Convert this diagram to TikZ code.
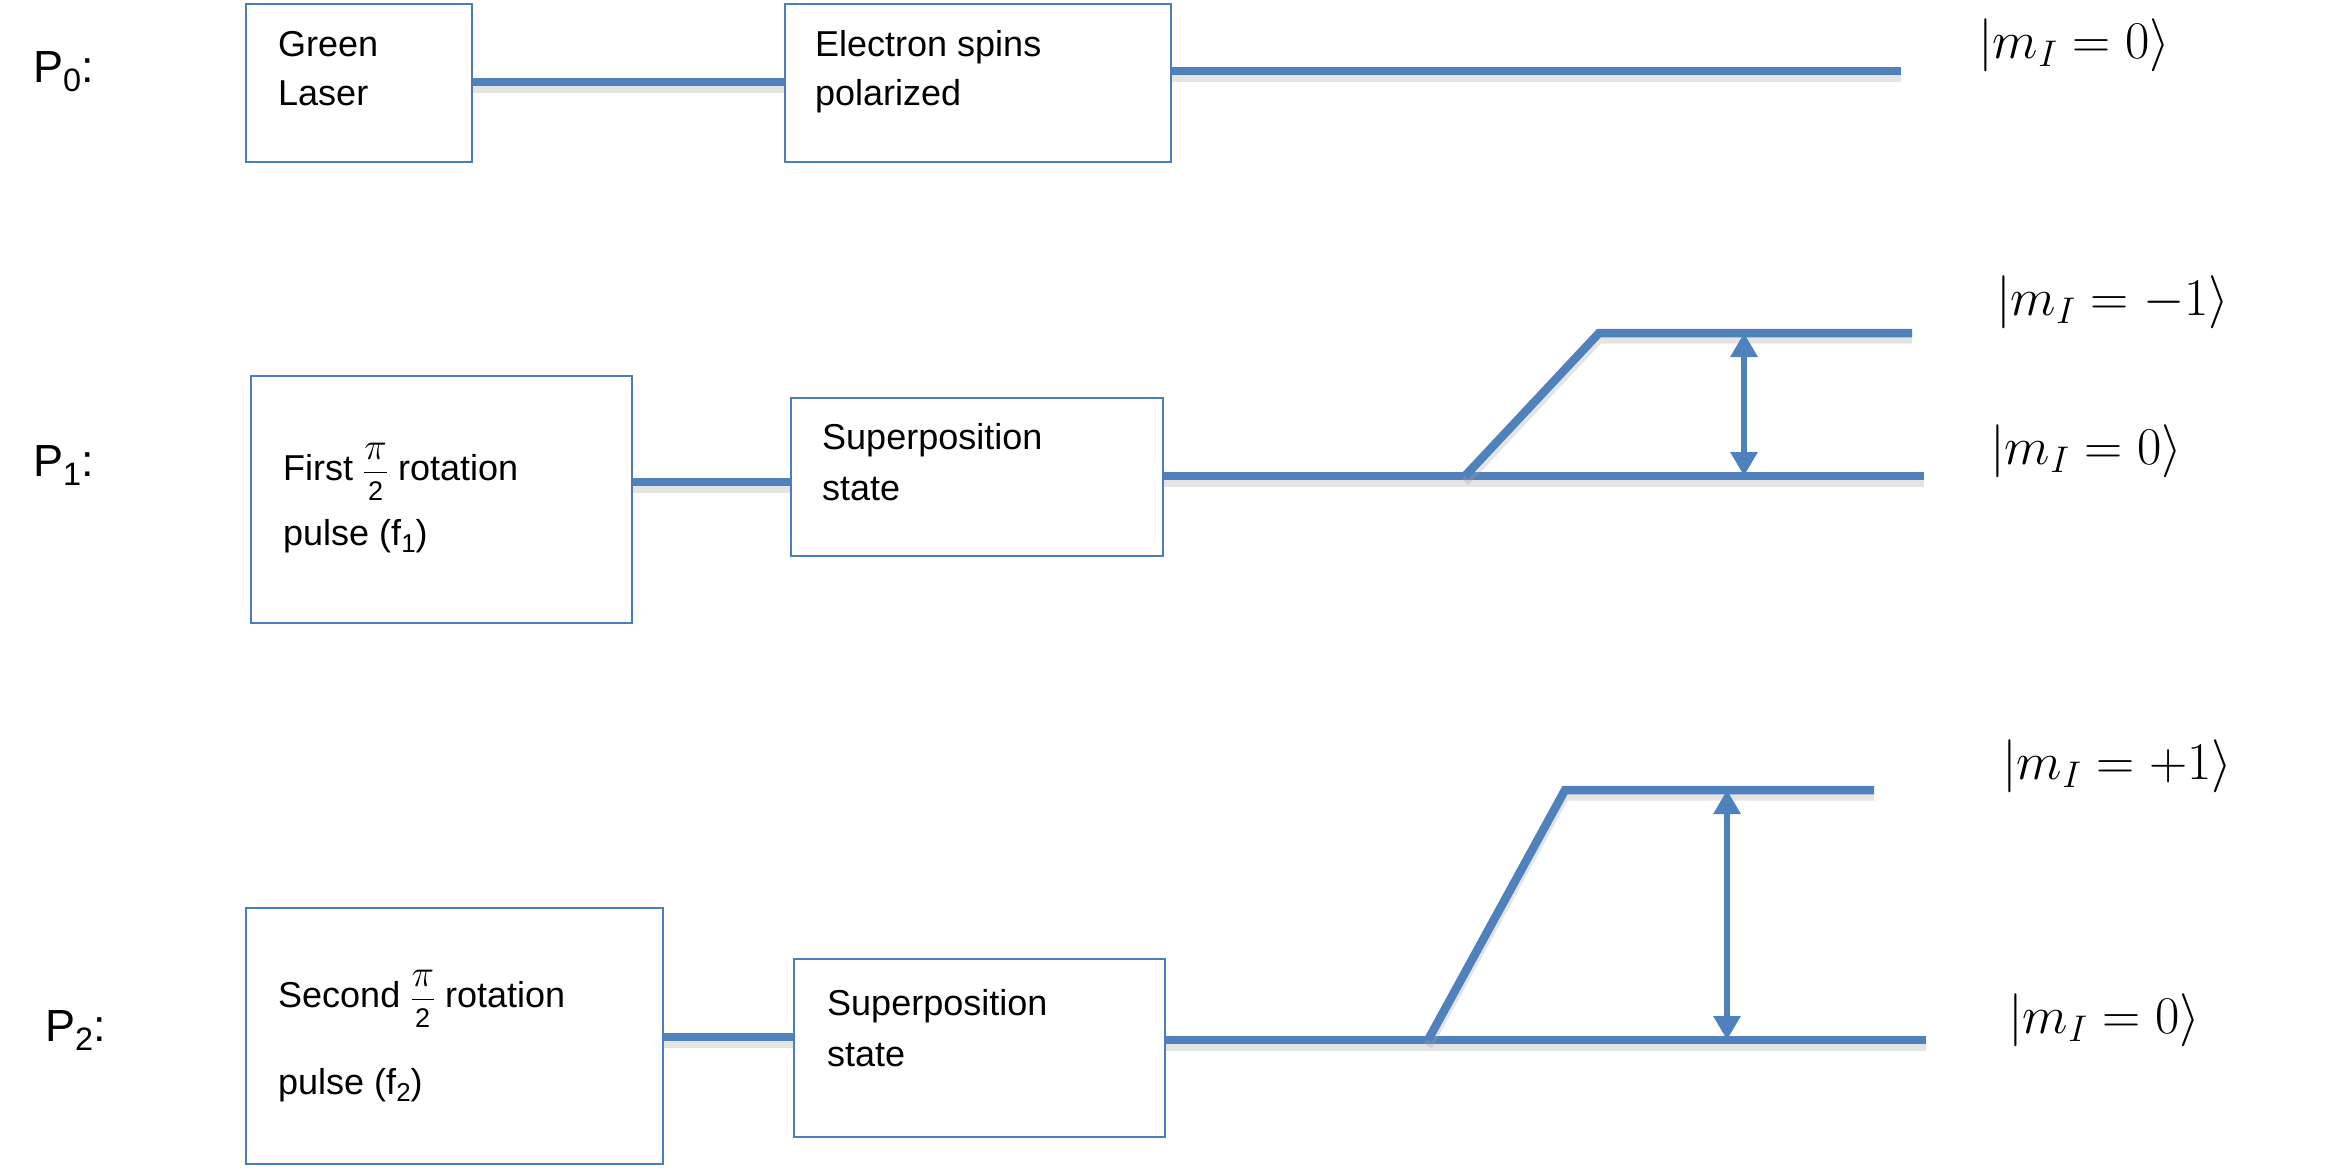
\RequirePackage{fix-cm}
\documentclass[tikz,border=0pt]{standalone}
\usepackage{fontspec}
\setmainfont{Liberation Sans}
\usetikzlibrary{arrows.meta}
\definecolor{pblue}{RGB}{79,129,189}
\definecolor{bblue}{RGB}{74,126,187}
\newcommand\mysubx[1]{\raisebox{-0.22em}{\scalebox{0.72}{#1}}}
\newcommand\halfpi{{\fontsize{30}{36}\selectfont$\displaystyle\frac{\mbox{\fontsize{38}{44}\selectfont$\pi$}}{\mbox{\fontsize{27}{30}\selectfont 2}}$}}
\begin{document}
\begin{tikzpicture}[x=1pt,y=-1pt,
  box/.style={draw=bblue, line width=2.2pt, inner sep=0pt, anchor=north west},
  txt/.style={anchor=base west, inner sep=0pt, font=\fontsize{36}{44}\selectfont},
  lbl/.style={anchor=base west, inner sep=0pt, font=\fontsize{45}{54}\selectfont},
  ket/.style={anchor=west, inner sep=0pt, font=\fontsize{53}{62}\selectfont},
  lvl/.style={draw=pblue, line width=8.5pt, line join=miter,
    preaction={draw=black!35, opacity=0.3, line width=9pt, transform canvas={yshift=-6pt}}},
  trans/.style={draw=pblue, line width=6pt,
    {Triangle[width=26pt,length=24pt]}-{Triangle[width=26pt,length=24pt]}}
]
\useasboundingbox (0,0) rectangle (2332,1173);

% ---------- P0 ----------
\node[lbl] (p0) at (33,82) {P\mysubx{0}:};
\node[box, minimum width=226, minimum height=158] (gl) at (245,3) {};
\node[box, minimum width=386, minimum height=158] (es) at (784,3) {};
\node[txt] (glt1) at (278,56) {Green};
\node[txt] (glt2) at (278,105) {Laser};
\node[txt] (est1) at (815,56) {Electron spins};
\node[txt] (est2) at (815,105) {polarized};
\coordinate (e0) at (1901,71);
\draw[lvl] (gl.east |- 0,82) -- (es.west |- 0,82);
\draw[lvl] (es.east |- e0) -- (e0);
\node[ket] (k0) at (1978,45) {$|m_I = 0\rangle$};

% ---------- P1 ----------
\node[lbl] (p1) at (33,476) {P\mysubx{1}:};
\node[box, minimum width=381, minimum height=247] (f1) at (250,375) {};
\node[box, minimum width=372, minimum height=158] (s1) at (790,397) {};
\node[txt] (f1t1) at (283,480) {First \halfpi{} rotation};
\node[txt] (f1t2) at (283,545) {pulse (f\mysubx{1})};
\node[txt] (s1t1) at (822,449) {Superposition};
\node[txt] (s1t2) at (822,500) {state};
\coordinate (l1end) at (1924,476);
\coordinate (a1) at (1465,476);
\coordinate (b1) at (1599,333);
\coordinate (c1) at (1912,333);
\coordinate (t1top) at (1744,333);
\coordinate (t1bot) at (1744,476);
\draw[lvl] (f1.east |- 0,482) -- (s1.west |- 0,482);
\draw[lvl] (s1.east |- l1end) -- (l1end);
\draw[lvl] (a1) -- (b1) -- (c1);
\draw[trans] (t1top) -- (t1bot);
\node[ket] (k1a) at (1996,302) {$|m_I = -1\rangle$};
\node[ket] (k1b) at (1990,451) {$|m_I = 0\rangle$};

% ---------- P2 ----------
\node[lbl] (p2) at (45,1041) {P\mysubx{2}:};
\node[box, minimum width=417, minimum height=256] (f2) at (245,907) {};
\node[box, minimum width=371, minimum height=178] (s2) at (793,958) {};
\node[txt] (f2t1) at (278,1007) {Second \halfpi{} rotation};
\node[txt] (f2t2) at (278,1094) {pulse (f\mysubx{2})};
\node[txt] (s2t1) at (827,1015) {Superposition};
\node[txt] (s2t2) at (827,1066) {state};
\coordinate (l2end) at (1926,1040);
\coordinate (a2) at (1428,1040);
\coordinate (b2) at (1565,790);
\coordinate (c2) at (1874,790);
\coordinate (t2top) at (1727,790);
\coordinate (t2bot) at (1727,1040);
\draw[lvl] (f2.east |- 0,1037) -- (s2.west |- 0,1037);
\draw[lvl] (s2.east |- l2end) -- (l2end);
\draw[lvl] (a2) -- (b2) -- (c2);
\draw[trans] (t2top) -- (t2bot);
\node[ket] (k2a) at (2002,766) {$|m_I = +1\rangle$};
\node[ket] (k2b) at (2008,1020) {$|m_I = 0\rangle$};
\end{tikzpicture}
\end{document}
